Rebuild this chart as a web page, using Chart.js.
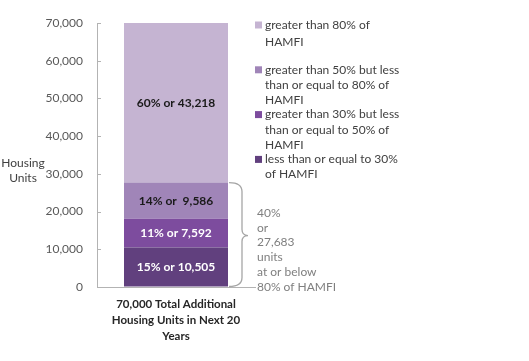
<!DOCTYPE html>
<html><head><meta charset="utf-8">
<script src="https://cdn.jsdelivr.net/npm/chart.js@4.4.1/dist/chart.umd.min.js"></script>
<style>html,body{margin:0;padding:0;background:#fff}#wrap{width:529px;height:361px}</style>
</head><body><div id="wrap"><canvas id="c" width="529" height="361"></canvas></div>
<script>
// ---- data ----
const categories = [["70,000 Total Additional", "Housing Units in Next 20", "Years"]];
const seriesNames = [
  ["less than or equal to 30%", "of HAMFI"],
  ["greater than 30% but less", "than or equal to 50% of", "HAMFI"],
  ["greater than 50% but less", "than or equal to 80% of", "HAMFI"],
  ["greater than 80% of", "HAMFI"]
];
const le30 = [10505];
const from30to50 = [7592];
const from50to80 = [9586];
const over80 = [43218];
const dataLabels = ["15% or 10,505", "11% or 7,592", "14% or  9,586", "60% or 43,218"];
const yTickValues = [0, 10000, 20000, 30000, 40000, 50000, 60000, 70000];
const yTitle = ["Housing", "Units"];
const bracketNote = ["40%", "or", "27,683", "units", "at or below", "80% of HAMFI"];

const colors = ["#61407e", "#7d4c9e", "#a085b8", "#c5b4d2"];
const labelColors = ["#ffffff", "#ffffff", "#1a1a1a", "#1a1a1a"];
const FONT = "Lato";

const series = [le30, from30to50, from50to80, over80];

const decor = {
  id: "decor",
  afterDatasetsDraw(chart) {
    const ctx = chart.ctx;
    const y = chart.scales.y;
    const ca = chart.chartArea;
    ctx.save();
    // inner tick marks
    ctx.strokeStyle = "#b3b3b3";
    ctx.lineWidth = 1;
    yTickValues.forEach(v => {
      const py = Math.round(y.getPixelForValue(v)) + 0.5;
      ctx.beginPath();
      ctx.moveTo(ca.left, py);
      ctx.lineTo(ca.left + 4, py);
      ctx.stroke();
    });
    // data labels
    ctx.font = "bold 12px " + FONT;
    ctx.textAlign = "center";
    ctx.textBaseline = "middle";
    series.forEach((s, i) => {
      const el = chart.getDatasetMeta(i).data[0];
      const top = Math.max(el.y, ca.top);
      const cy = (top + el.base) / 2;
      ctx.fillStyle = labelColors[i];
      ctx.fillText(dataLabels[i], el.x, cy);
    });
    // brace
    const el0 = chart.getDatasetMeta(2).data[0];
    const x0 = el0.x + el0.width / 2 + 1;
    const topY = el0.y;
    const botY = chart.getDatasetMeta(0).data[0].base;
    const mid = (topY + botY) / 2 + 1;
    const xs = x0 + 13, tip = x0 + 19;
    ctx.strokeStyle = "#a6a6a6";
    ctx.lineWidth = 1.3;
    ctx.beginPath();
    ctx.moveTo(x0, topY);
    ctx.quadraticCurveTo(xs, topY, xs, topY + 9);
    ctx.lineTo(xs, mid - 6);
    ctx.quadraticCurveTo(xs, mid, tip, mid);
    ctx.quadraticCurveTo(xs, mid, xs, mid + 6);
    ctx.lineTo(xs, botY - 9);
    ctx.quadraticCurveTo(xs, botY, x0, botY);
    ctx.stroke();
    // bracket note
    ctx.font = "12px " + FONT;
    ctx.textAlign = "left";
    ctx.fillStyle = "#7f7f7f";
    bracketNote.forEach((t, k) => ctx.fillText(t, 257, 213 + k * 14.8));
    // y title
    ctx.fillStyle = "#404040";
    ctx.textAlign = "center";
    yTitle.forEach((t, k) => ctx.fillText(t, 23, 163 + k * 15.5));
    // legend (top to bottom = reverse stack order)
    const order = [3, 2, 1, 0];
    ctx.textAlign = "left";
    order.forEach((i, g) => {
      const gy = 25 + g * 44.8;
      ctx.fillStyle = colors[i];
      ctx.fillRect(255, gy - 3.5, 7, 7);
      ctx.fillStyle = "#404040";
      seriesNames[i].forEach((t, k) => ctx.fillText(t, 265, gy + (k === 0 ? 0 : (g === 0 ? 17 : 0) + (g === 0 ? 0 : k * 15.2))));
    });
    ctx.restore();
  }
};

new Chart(document.getElementById("c"), {
  type: "bar",
  data: {
    labels: categories,
    datasets: series.map((s, i) => ({
      label: seriesNames[i].join(" "),
      data: s,
      backgroundColor: colors[i],
      borderWidth: 0,
      barPercentage: 104 / 158,
      categoryPercentage: 1
    }))
  },
  options: {
    responsive: false,
    animation: false,
    devicePixelRatio: 1,
    layout: { padding: { top: 23, right: 274, bottom: 0, left: 0 } },
    plugins: { legend: { display: false }, tooltip: { enabled: false } },
    scales: {
      x: {
        stacked: true,
        grid: { display: true, drawOnChartArea: false, drawTicks: false },
        border: { color: "#b3b3b3" },
        ticks: { font: { family: FONT, size: 11.5, weight: "bold", lineHeight: 1.35 }, color: "#262626", padding: 10 },
        afterFit(s) { s.height = 74; }
      },
      y: {
        stacked: true,
        min: 0,
        max: 70000,
        afterBuildTicks(s) { s.ticks = yTickValues.map(v => ({ value: v })); },
        ticks: {
          callback: v => v.toLocaleString("en-US"),
          font: { family: FONT, size: 12 },
          color: "#595959",
          padding: 14
        },
        grid: { display: true, drawOnChartArea: false, drawTicks: false },
        border: { color: "#b3b3b3" },
        afterFit(s) { s.width = 97; }
      }
    }
  },
  plugins: [decor]
});
</script></body></html>
